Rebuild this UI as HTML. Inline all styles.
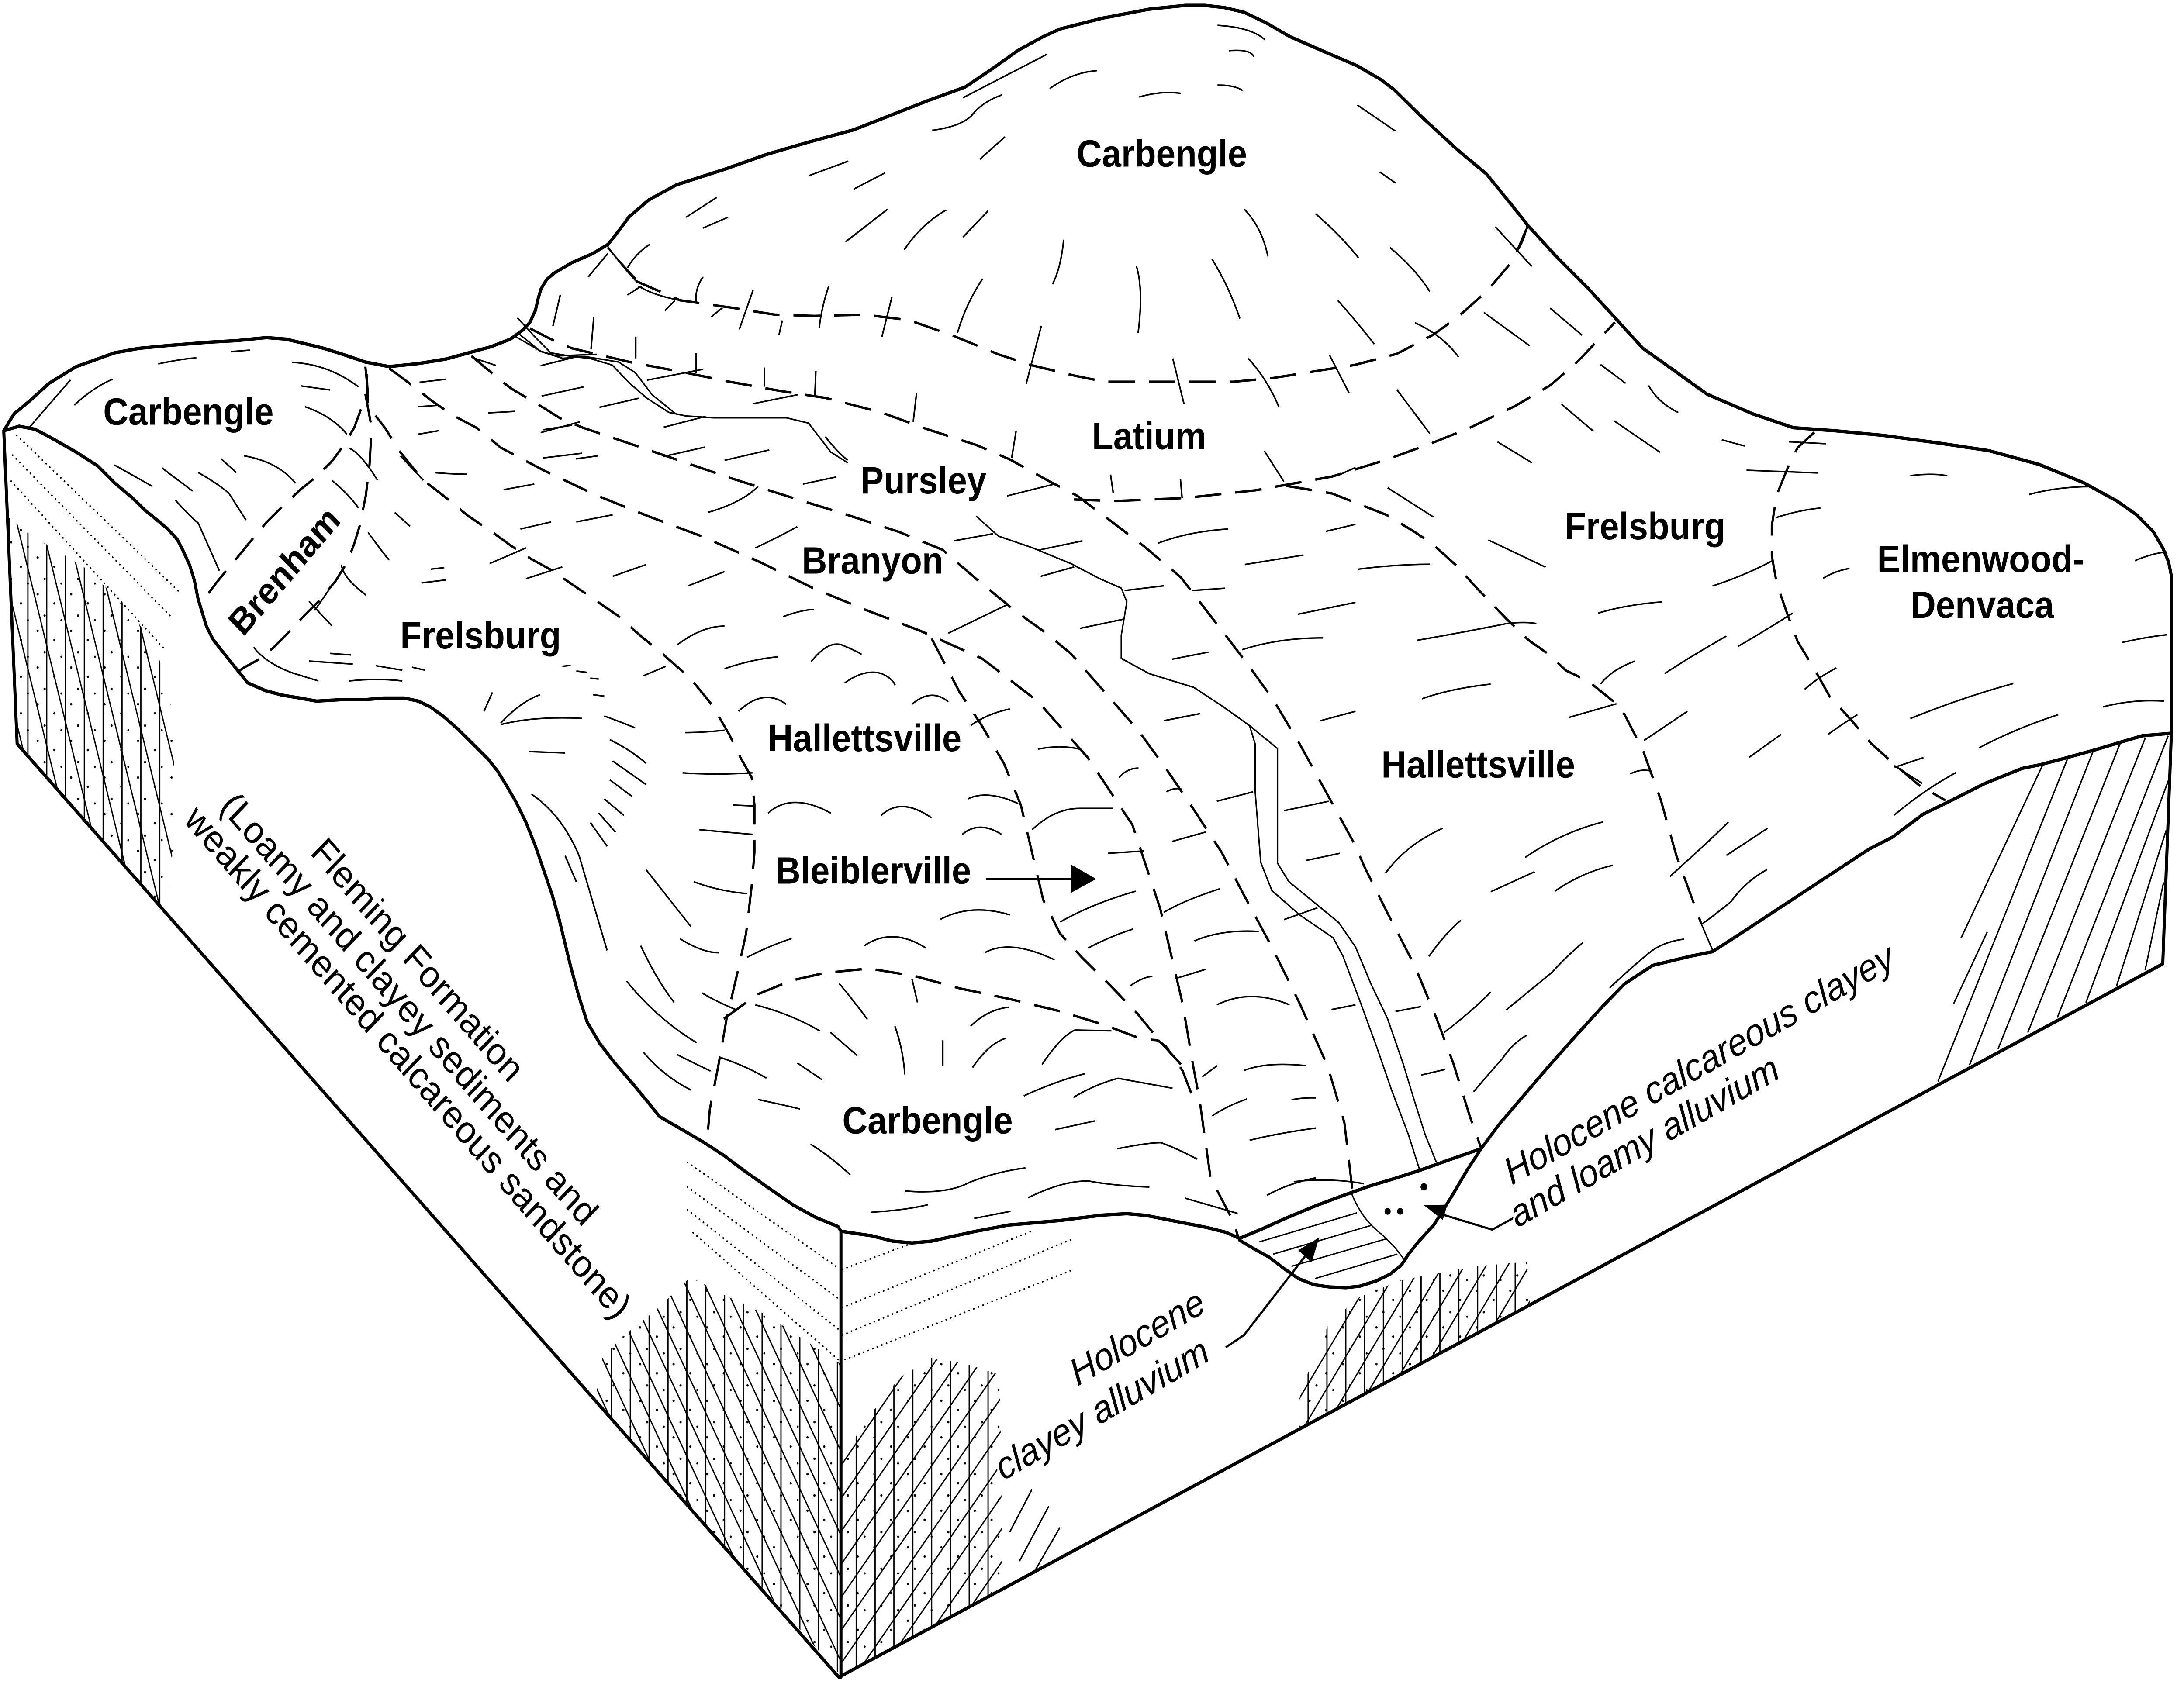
<!DOCTYPE html>
<html><head><meta charset="utf-8"><style>
html,body{margin:0;padding:0;background:#fff;overflow:hidden;width:100%;height:100%;}
svg{display:block;width:100vw;height:100vh;}
.lb{font-family:"Liberation Sans",Arial,sans-serif;font-weight:bold;font-size:25px;fill:#000;stroke:#fff;stroke-width:3.5px;paint-order:stroke;stroke-linejoin:round;}
.rg{font-family:"Liberation Sans",Arial,sans-serif;font-size:25px;fill:#000;}
.it{font-family:"Liberation Sans",Arial,sans-serif;font-style:italic;font-size:25px;fill:#000;stroke:#fff;stroke-width:3px;paint-order:stroke;}
</style></head><body>
<svg xmlns="http://www.w3.org/2000/svg" viewBox="0 0 5478 3854" preserveAspectRatio="none">
<rect x="0" y="0" width="5478" height="3854" fill="#fff"/>
<defs>
<pattern id="vert" width="13.5" height="60" patternUnits="userSpaceOnUse"><path d="M6.5,0V60" stroke="#000" stroke-width="0.9"/></pattern>
<pattern id="dg1" width="17" height="60" patternUnits="userSpaceOnUse" patternTransform="rotate(-15)"><path d="M8,0V60" stroke="#000" stroke-width="0.9"/></pattern>
<pattern id="dg2" width="12.5" height="60" patternUnits="userSpaceOnUse" patternTransform="rotate(-27)"><path d="M6,0V60" stroke="#000" stroke-width="0.9"/></pattern>
<pattern id="dg3" width="13" height="60" patternUnits="userSpaceOnUse" patternTransform="rotate(37)"><path d="M6,0V60" stroke="#000" stroke-width="0.9"/></pattern>
<pattern id="dg4" width="13" height="60" patternUnits="userSpaceOnUse" patternTransform="rotate(33)"><path d="M6,0V60" stroke="#000" stroke-width="0.9"/></pattern>
<pattern id="dots" width="24" height="24" patternUnits="userSpaceOnUse"><circle cx="3" cy="5" r="0.8"/><circle cx="15" cy="11" r="0.8"/><circle cx="8" cy="19" r="0.8"/><circle cx="20" cy="22" r="0.7"/></pattern>
</defs>

<g transform="scale(3.498)" fill="none" stroke="#000" stroke-linejoin="round">

<!-- hatch regions -->
<g stroke="none">
<path d="M5.3,338 L20,349 60,371 92,398 112,425 122,455 126,520 121,600 12.3,487 Z" fill="url(#vert)"/>
<path d="M5.3,338 L20,349 60,371 92,398 112,425 122,455 126,520 121,600 12.3,487 Z" fill="url(#dg1)"/>
<path d="M5.3,338 L20,349 60,371 92,398 112,425 122,455 126,520 121,600 12.3,487 Z" fill="url(#dots)"/>
<path d="M428,893 L445,876 470,858 495,836 520,848 550,861 578,878 603,893 603,1097 428,918 Z" fill="url(#vert)"/>
<path d="M428,893 L445,876 470,858 495,836 520,848 550,861 578,878 603,893 603,1097 428,918 Z" fill="url(#dg2)"/>
<path d="M428,893 L445,876 470,858 495,836 520,848 550,861 578,878 603,893 603,1097 428,918 Z" fill="url(#dots)"/>
<path d="M603,955 L625,925 645,902 668,889 690,892 717,900 719,1039 603,1098 Z" fill="url(#vert)"/>
<path d="M603,955 L625,925 645,902 668,889 690,892 717,900 719,1039 603,1098 Z" fill="url(#dg3)"/>
<path d="M603,955 L625,925 645,902 668,889 690,892 717,900 719,1039 603,1098 Z" fill="url(#dots)"/>
<path d="M925,938 L935,905 953,866 975,849 1005,838 1058,829 1095,826 1097,853 Z" fill="url(#vert)"/>
<path d="M925,938 L935,905 953,866 975,849 1005,838 1058,829 1095,826 1097,853 Z" fill="url(#dg4)"/>
<path d="M925,938 L935,905 953,866 975,849 1005,838 1058,829 1095,826 1097,853 Z" fill="url(#dots)"/>
</g>

<!-- dotted lines -->
<g stroke-width="1.1" stroke-linecap="round" stroke-dasharray="0.1 3.4">
<path d="M12,285 L128,387"/><path d="M9,298 L124,405"/><path d="M8,315 L118,425"/>
<path d="M493,761 L601,830"/><path d="M493,777 L601,850"/><path d="M493,792 L601,870"/><path d="M497,807 L601,890"/>
<path d="M604,831 L652,814.5"/><path d="M604,856 L741,805.5"/><path d="M604,874 L770,810.7"/><path d="M606,890 L770,831"/>
</g>

<!-- small hatch on front face + right face hatch -->
<g stroke-width="1">
<path d="M724,1003 L740,975"/><path d="M731,1022 L752,986"/><path d="M741,1030 L760,1000"/>
<path d="M1389.6,708 L1483,495.6"/>
<path d="M1400.9,657 L1425,610"/>
<path d="M1406.2,614 L1464.6,501"/>
<path d="M1412.2,697.3 L1501,491.5"/>
<path d="M1432.7,686.7 L1520.3,486.6"/>
<path d="M1454,676 L1538.2,483.3"/>
<path d="M1475.2,666.2 L1554.7,481.7"/>
<path d="M1495.7,656.4 L1555.4,509.6"/>
<path d="M1517.6,645.7 L1553.4,543.2"/>
<path d="M1538.2,635 L1551.4,577.6"/>
</g>

<!-- clayey alluvium hatch -->
<g stroke-width="0.9">
<path d="M903,813 L973,794"/><path d="M913,821 L984,802"/><path d="M926,829 L994,811"/><path d="M943,837 L1002,821"/>
<path d="M969,781 Q976,797 988,806 Q1000,815 1007,825"/>
</g>
<g fill="#000" stroke="none"><circle cx="1021" cy="777" r="2.4"/><circle cx="995" cy="793" r="2.2"/><circle cx="1004" cy="793" r="2.2"/></g>

<!-- streams and thin lines -->
<g stroke-width="1">
<path d="M371,208 L383,220 395,231 411,233.5 423,234.6 439,239 451.6,251 463.6,260.5 479.7,270 491.7,272.3 511.7,273.5 563.8,273.5 579.8,277 595.8,296 607.9,303"/>
<path d="M371.4,218 L387.5,230 403.5,234.6 419.5,233.4 443.6,237 455.6,244 467.6,258.4 483.7,270.3"/>
<path d="M369,220 L388,230 399,233 428,232"/>
<path d="M700,338 L716,351 740,358.5 768,369 788,378.6 804,385 808,394 804,416 804,431 824,441 856,450 876,462 896,475 900,487 900,518 904,564.5 912,583 932,599 956,614 963,626 975,655 987,685 998,714 1010,743 1018,766"/>
<path d="M896,475 L916,490 916,533 916,565 924,577 944,592 960,604 972,620 983,644 995,667 1006,696 1014,720 1022,743 1030,761"/>
<path d="M1096,147.5 L1089,163"/>
<path d="M435.5,161 Q444,172 456,184"/>
<path d="M1220,605 L1228,622"/>
</g>

<!-- dashed soil boundaries -->
<g stroke-width="1.6" stroke-dasharray="19 10">
<path d="M456,184 L463.6,187 487.7,196.6 523.7,201.3 555.8,206 583.9,206.8 620,206 652,209.6 684,220 716,232 740.2,239.2 772.3,246.3 792.3,249.9 832.4,249.9 884.6,249.9 912.6,247.5 952.7,241.6 971,239 1001.7,231.6 1028.2,218.9 1047.1,206.1 1066,190.8 1085,170.4 1094.5,150"/>
<path d="M770,327 L800,328 850,326 900,321 955,312 994,301 1027,290 1054,280 1086,266 1112,252 1132,236 1158,211"/>
<path d="M380,215 L395,222 410,228 451.6,237 491.7,244 523.7,250 560,256 592,260.5 632,270 664,280.7 700,291.3 724.2,300.8 752.2,315 772.3,324.5 796.4,341 820.4,357.7 846.8,378 869.8,405.3 892.8,432.6 912.4,457.2 932.1,487.3 951.8,520.1 971.5,552.9 978.6,567.9 994.5,597 1014.3,632 1030.2,667 1042.1,696.1 1054,731 1062,751.5"/>
<path d="M338,233 L355,246 366,254 388,266 402,274 418,280 431,284 476,298 524,313 572,327 604,336 644,348 676,360 700,379 728,400 748,413 768,428 792,453 816,478 836,503 856,530 876,558 892,586 912,620 932,657 952,698 964,735 970,781"/>
<path d="M279,241 L298,254 309,262 325,272 341.6,280 359,293 390,308 427,324 465,338 503,351 545,368 583,385 620,399 660,413 704,431 744,459 780,496 812,540 832,595 848,657 856,700 860,719 868,771 884,799 888,810"/>
<path d="M263,245 L264,266 276,280 287,296 303,314 320,326 336,338 351,347 366,357 381,366 395,373 419,388 443,403 459,416 475,428 495,444 511,462 523,481 531,496 539,509 541,527 541,543 541,558 539,580 535,611 529,636 521,667 515,698 509,726 507,747"/>
<path d="M262,240 L263.7,256 259.6,266 254,280 246,292 238,302 227,312 216,320 202,332 191,342 180,354 167,368.5 156,380.5 144,395"/>
<path d="M262,258 L266.5,280 265,304 262.4,324 258,344 254,356 248.7,368.5 240.5,380.5 229.6,392.6 218.6,402.6 208,413 196,424 187,431 175,437 170,440"/>
<path d="M519,667 L543,651 567,642 591,637 623,634 656,639 688,647 724,654 760,662 792,671 818,680 830,681 836,685 848,701 856,720"/>
<path d="M668,418 L688,453 704,475 720,500 732,527 740,558 748,589 760,611 776,627 796,645 816,664 832,682 848,698"/>
<path d="M922,318 L955,323 994,337 1014,348 1027,356 1044,370 1060,386 1080,405 1096,419 1110,428 1123,439 1139,446 1158,460 1165,468 1178,491 1191,524 1202,560 1216,595 1220,605"/>
<path d="M1301,283 L1289,293 1282,306 1274,324 1270.5,344 1270.5,364 1274,382 1282,403 1289,420 1301,438 1312,456 1327,471 1342,487 1358,500 1376,514 1395,524"/>
</g>

<!-- thick outlines -->
<g stroke-width="2.2" stroke-linecap="round">
<path d="M2.7,282 L10,271 21.9,262 35,251 54.7,240 70,235 82,231 100,228 123,226 150,224 169.5,223 191,221 205,222 218.6,225 232,228 246,232 262,237 279,240 300,238 320,235 336,231 352,227 366,222 375,216 380,211 384,203 386,195 388,189 392,183 397,179 410,172 425,166 436,160 443,152 451,142 465,131 485,121 519,111 550,101 580,93 612,85 640,75 665,66 692,57 710,46 730,33 748,24 760,19 790,12 824,6 850,3.5 864,3.5 878,5 892,8 908,15 925,24 945,32 973,43 990,52 1000,59 1020,77 1045,98 1066,114 1082,132 1096,148 1116,168 1139,189 1158,208 1178,228 1198,241 1224,258 1257,271 1286,280 1316,282 1350,285 1390,290 1426,295 1462,304 1494,316 1518,328 1532,337 1544,348 1551,359 1555,368 1557,377 L1557,480"/>
<path d="M2.7,282 L12.3,487 L601.5,1098 L1550.8,631 L1557,480"/>
<path d="M603,806 L603,1098"/>
<path d="M2.7,282 L13.7,279 25,281 35.5,286 54.7,296 70,305 82,316 95,326 104,334 120,346 127,353 131,360 136,370 139.4,380 142,392 145,401 148,410 153,419 160,427 167,435 177.6,447 190,452 202,455 215,457 227,459 245,458 262,458 275,457 290,457 300,459 309,463 318,469 328,477 339,487 350,497 357,505 363,514 370,525 377,538 384,554 390,570 396,586 401,602 405,617 409,632 415,652 421,669 430,683 441,696 457,713 473,731 490,740 505,748 520,757 533,766 550,777 569,789 585,797 601,803 603,806 L625,809 640,812.5 654,813.7 668,812.5 680,810 700,806 723,802 760,799 790,795.5 808,794.5 822,795.7 844,799.7 865,803.5 879,806.7 888.8,810.7 L905,804.5 922,797.5 943,789.5 962,783 982.6,776.3 1000,771.5 1018.3,766.1 1040,759 1062,752"/>
<path d="M889,812 L900,818 910,823 920,830 931,837 942,841 953,842.5 965,843 975,842 987,838.5 997,834 1005,828 1010,821 1018,812 1028,802 1035,792 1043,780 1052,766 1062,752 1075,736 1090,720 1109.6,699 1130,678 1150,658 1165,644 1185,632 1212,626 1228,623 1250,610 1275,595 1300,580 1340,556 1357,548 1379,533 1397,525 1423,513 1450,503 1463,500.6 1478,497 1503,490.7 1520,486 1536,481.7 1557,480"/>
</g>

<!-- arrows -->
<g stroke-width="1.4">
<path d="M707,575.4 L770,575.4"/>
<path d="M879,882 L892,874 L937,821"/>
<path d="M1086,797 L1070,805 L1034,795"/>
</g>
<g fill="#000" stroke="none">
<polygon points="768,566 786,575.4 768,584.5"/>
<polygon points="946,810 940.5,826.5 931,818.5"/>
<polygon points="1021,789 1037.8,788.6 1034.6,798.6"/>
</g>

<!-- labels -->
<g stroke="#fff">
<text class="lb" x="772" y="109">Carbengle</text>
<text class="lb" x="74" y="278">Carbengle</text>
<text class="lb" x="783" y="294">Latium</text>
<text class="lb" x="617" y="323">Pursley</text>
<text class="lb" x="575" y="375.5">Branyon</text>
<text class="lb" x="287" y="424.5">Frelsburg</text>
<text class="lb" x="1122" y="353">Frelsburg</text>
<text class="lb" x="1346" y="374.5">Elmenwood-</text>
<text class="lb" x="1370" y="404.5">Denvaca</text>
<text class="lb" x="990.5" y="509">Hallettsville</text>
<text class="lb" x="550.5" y="491.7">Hallettsville</text>
<text class="lb" x="556" y="578.5">Bleiblerville</text>
<text class="lb" x="604" y="742">Carbengle</text>
<text class="lb" transform="translate(203.6,373.5) rotate(-47)" text-anchor="middle" y="8.5" style="font-size:24px">Brenham</text>
</g>
<g stroke="none">
<text class="rg" transform="translate(300,628) rotate(46.5)" text-anchor="middle" y="9">Fleming Formation</text>
<text class="rg" transform="translate(294,660) rotate(46.5)" text-anchor="middle" y="9">(Loamy and clayey sediments and</text>
<text class="rg" transform="translate(293,695) rotate(46.5)" text-anchor="middle" y="9">weakly cemented calcareous sandstone)</text>
</g>
<g stroke="#fff">
<text class="it" transform="translate(1084,776) rotate(-27.5)">Holocene calcareous clayey</text>
<text class="it" transform="translate(1088,804) rotate(-27.5)">and loamy alluvium</text>
<text class="it" transform="translate(866,858) rotate(-28)" text-anchor="end">Holocene</text>
<text class="it" transform="translate(869,890) rotate(-28)" text-anchor="end">clayey alluvium</text>
</g>
</g>

<!-- hachures transcribed per region -->
<g fill="none" stroke="#000" stroke-width="3.5">
<g transform="translate(0,700) scale(0.95663,0.70153)">
<path vector-effect="non-scaling-stroke" d="M415,190 Q470,175 515,170 M605,150 L655,145 M765,185 Q860,190 940,265 M195,325 Q240,270 295,240 M75,400 L185,242 M790,262 L865,275 M800,330 Q870,360 910,420 M640,490 Q730,510 775,580 M300,520 L400,590 M425,530 L505,605 M520,545 Q570,580 600,612 L645,700 M580,500 L620,545 M460,635 Q500,690 520,710 L575,865 M870,570 Q910,610 940,660 M915,465 Q945,480 990,570 M1050,490 L1110,570 M1035,675 L1075,720 M965,740 Q1000,800 1020,830 M1130,860 L1165,855 M1105,905 L1170,895 M985,1175 L1055,1190 M1080,1180 L1115,1190 M915,1225 Q990,1215 1055,1225 M810,1160 L925,1170 M865,1135 L920,1140 M665,1115 Q700,1170 770,1200 L835,1225 M810,965 L870,1045 M825,995 L875,905 M895,845 Q900,890 960,945 M1140,545 Q1190,550 1225,550 M1095,330 L1150,325 M1100,250 L1170,240 M1095,420 L1150,408 M1280,350 L1350,345 M1420,295 L1530,265 M1425,405 L1500,390 M1240,170 L1300,195 M1510,500 L1568,490"/>
</g>
<g transform="translate(1300,0) scale(1.40306,0.82908)">
<path vector-effect="non-scaling-stroke" d="M1250,70 Q1310,75 1335,110 M1270,140 Q1310,135 1315,157 M1250,235 Q1280,235 1295,250 M1110,268 Q1150,250 1185,258 M950,245 Q990,200 1035,195 M795,270 Q870,210 945,150 M740,360 Q790,350 810,320 Q830,280 865,262 M870,378 L825,440 M590,445 L520,485 M655,478 L600,522 M355,545 L300,600 M375,600 L330,630 M660,578 L585,668 M765,580 Q720,620 690,690 M840,582 L795,655 M975,662 Q970,740 955,785 M1105,735 Q1118,800 1108,920 M1240,715 Q1270,790 1290,880 M1298,578 Q1330,630 1340,708 M1425,590 Q1470,650 1502,712 M1500,290 L1568,362 M1540,475 L1568,505 M1465,830 Q1500,890 1530,950 M235,675 Q210,700 195,740 M160,700 L125,765 M160,685 Q180,720 210,770 M215,790 Q240,815 290,830 M220,790 L195,815 M330,765 Q315,800 318,835 M280,830 L262,858 M420,800 L395,910 M365,850 L345,875 M472,885 L466,925 M555,790 Q542,850 538,905 M668,820 L650,930 M830,770 Q800,840 785,920 M935,900 L908,1060 M1170,990 L1190,1115 M1305,990 Q1340,1050 1360,1125 M1450,980 L1485,1085 M75,815 L62,900 M135,875 L130,965 M210,930 L210,990 M318,975 L318,1030 M440,1015 L440,1068 M532,1025 L530,1095 M712,1085 L706,1165 M890,1190 L882,1265 M40,1010 L105,985 M145,1125 L215,1100 M260,1180 L335,1150 M230,1050 L330,1020 M420,1115 L500,1090 M40,1195 L110,1165"/>
</g>
<g transform="translate(3400,400) scale(1.32526,0.89286)">
<path vector-effect="non-scaling-stroke" d="M820,685 L890,690 M740,758 L875,765 M1050,772 Q1090,765 1120,772 M1275,820 Q1330,800 1395,800 M795,880 Q840,860 880,855 M1475,990 Q1510,970 1535,968 M885,1035 Q910,1015 935,1010 M1450,1200 Q1500,1185 1535,1180 M1050,1395 Q1150,1340 1245,1305 M1415,1365 Q1470,1345 1530,1350 M850,1320 Q875,1290 910,1265 M1180,1470 Q1250,1420 1330,1385 M895,1435 Q920,1410 950,1385 M1020,1520 L1075,1495"/>
</g>
<g transform="translate(2700,500) scale(1.14796,0.95663)">
<path vector-effect="non-scaling-stroke" d="M915,20 L995,115 M985,15 Q980,50 965,75 M685,70 Q740,120 772,175 M740,250 Q800,280 835,332 M890,225 L990,305 M1035,215 L1105,280 M700,410 L772,515 M920,535 L995,585 M1060,445 L1130,510 M1145,350 L1200,395 M1250,400 Q1270,440 1315,465 M1175,485 L1275,560 M1410,530 L1460,545 M680,645 L780,715 M900,770 L1025,835 M1390,880 Q1460,855 1520,820 M1140,945 Q1200,925 1280,918 M745,1010 Q850,990 940,970 Q980,965 1005,970 M1445,1025 Q1500,990 1565,945 M1285,1090 Q1340,1050 1420,1000 M755,1150 Q820,1125 905,1115 M1075,1195 L1180,1162 M1145,1115 Q1170,1080 1220,1060 M1240,1250 L1335,1180 M1470,1290 L1540,1235 M1210,1330 Q1230,1318 1252,1322 M675,1568 Q720,1500 800,1460 M980,1530 Q1060,1470 1150,1445 M1420,1525 L1510,1460 M615,840 Q700,828 772,828"/>
</g>
<g transform="translate(3300,1600) scale(1.38903,1.02041)">
<path vector-effect="non-scaling-stroke" d="M1045,150 L1095,190"/>
</g>
<g transform="translate(3500,1500) scale(0.95663,0.63776)">
<path vector-effect="non-scaling-stroke" d="M1308,575 Q1380,490 1470,422 M250,850 L365,778 M418,848 Q490,780 570,755 M720,795 Q780,720 820,670 L873,600 M805,965 Q850,920 880,885 Q920,810 975,770 M88,1082 Q130,1000 172,952 M562,1195 Q620,1120 665,1070 Q700,1030 757,1020 M290,1275 L410,1140 Q450,1080 492,1032 M128,1355 Q200,1280 250,1210 M205,1568 Q260,1480 280,1450 Q310,1390 345,1365 M0,1280 L68,1262 M68,1508 L130,1488"/>
</g>
<g transform="translate(1200,1000) scale(1.40306,1.08418)">
<path vector-effect="non-scaling-stroke" d="M115,45 L185,35 M45,112 L100,100 M330,42 L405,22 M440,50 L520,28 M580,100 L640,85 M620,0 Q640,30 660,50 M945,125 L1030,100 M1130,80 L1135,120 M1255,90 L1258,130 M1405,30 L1440,95 M1540,80 L1568,65 M410,160 Q470,140 500,105 M75,195 L130,180 M175,180 L240,165 M20,268 L85,235 M85,300 L150,275 M240,295 L300,270 M375,315 L440,285 M495,235 Q540,210 570,190 M850,220 L920,205 M1000,240 L1080,220 M1215,225 Q1270,200 1340,195 M1370,270 L1475,250 M1515,200 L1568,185 M1005,295 L1065,275 M1155,325 L1225,315 M1275,325 L1335,320 M1465,375 L1568,350 M1075,405 L1155,385 M840,415 L945,355 M1240,470 L1305,455 M1365,450 Q1430,425 1510,425 M1225,600 L1290,585 M1505,600 L1568,580 M1230,750 Q1245,740 1258,745 M1320,770 L1385,750 M1440,790 L1520,770 M1480,895 L1540,880 M1240,855 L1300,835 M1125,880 L1190,875 M1040,1025 Q1100,985 1175,960 M1225,1005 Q1260,980 1325,955 M1280,1065 Q1330,1040 1395,1045 M1440,1020 L1500,995 M1090,1080 Q1130,1055 1170,1040 M1165,1160 Q1190,1140 1205,1140 M1245,1145 L1300,1125 M1320,1200 Q1380,1165 1450,1200 M1525,1210 L1568,1200 M355,440 Q400,400 440,400 M295,505 L335,485 M440,490 Q490,470 535,465 M545,380 Q580,365 600,365 M595,475 Q625,430 650,440 Q680,455 685,460 M655,520 Q690,490 720,500 Q740,510 745,525 M465,580 Q510,530 550,565 M775,565 Q810,530 840,560 M880,610 Q910,585 950,575 M518,795 Q560,750 630,795 M720,800 Q755,760 810,805 M875,765 Q910,745 965,775 M865,840 Q895,810 935,840 M990,830 Q1030,785 1075,785 L1135,785 M1000,660 Q1040,650 1075,660 M1145,720 Q1160,700 1180,700 M825,1020 Q880,985 950,1010 M690,1075 Q740,1035 800,1080 M905,1090 Q950,1060 1030,1105 M480,1100 Q520,1075 560,1060 M10,580 L25,540 M40,605 Q75,560 110,545 M40,608 Q100,590 185,595 M150,485 L165,483 M175,495 L195,498 M200,510 L215,512 M205,545 L225,548 M90,665 L155,668 M225,590 Q260,605 280,615 M235,640 Q270,660 300,690 M240,685 Q270,710 300,735 M235,725 L275,760 M225,765 L260,800 M215,795 L245,835 M200,815 L230,865 M95,755 Q150,800 180,885 L230,1085 M155,885 L175,940 M300,915 Q350,990 380,1035 M360,1060 Q400,1090 430,1090 M290,1075 Q320,1150 350,1195 M400,1175 Q420,1190 460,1210 M265,1150 Q320,1230 390,1280 M295,1300 Q330,1350 380,1380 M355,1305 Q380,1320 415,1340 M495,1200 Q560,1220 610,1255 M430,1310 Q480,1330 515,1355 M395,830 Q440,835 490,840 M385,940 Q430,960 480,965 M370,625 Q400,625 440,620 M365,710 Q420,715 490,710 M455,778 L492,780 M645,1155 Q670,1190 695,1230 M880,1245 Q910,1210 948,1205 M775,1145 L785,1195 M500,1400 Q540,1410 575,1420"/>
</g>
<g transform="translate(2000,2350) scale(0.82908,0.35077)">
<path vector-effect="non-scaling-stroke" d="M100,40 L180,190 M0,240 L75,350 M295,0 Q320,150 325,315 M440,92 L440,260 M530,270 Q580,110 632,78 M740,250 Q800,60 840,25 L950,30 M1225,330 L1270,258 M1350,290 Q1420,230 1540,258 M685,455 Q780,360 870,310 M835,465 Q900,380 970,340 L1135,405 M1255,585 Q1300,520 1360,475 M1495,480 Q1530,465 1568,468 M780,675 L900,618 M1368,745 Q1450,700 1568,665 M40,770 Q100,850 160,970 M968,800 Q1060,760 1100,760 Q1150,800 1210,868 M325,1075 Q450,1100 520,1020 Q600,950 690,925 M698,1120 Q800,1010 880,1010 Q950,1040 1065,1050 M1420,1105 Q1480,1030 1568,990 M222,1215 Q330,1200 395,1165 M535,1255 L645,1208 M1172,1122 L1332,1222"/>
</g>
<g transform="translate(1500,2400) scale(1.53061,0.9273)">
<path vector-effect="non-scaling-stroke" d="M1140,330 Q1200,320 1255,335"/>
</g>
</g>
</svg>
</body></html>
